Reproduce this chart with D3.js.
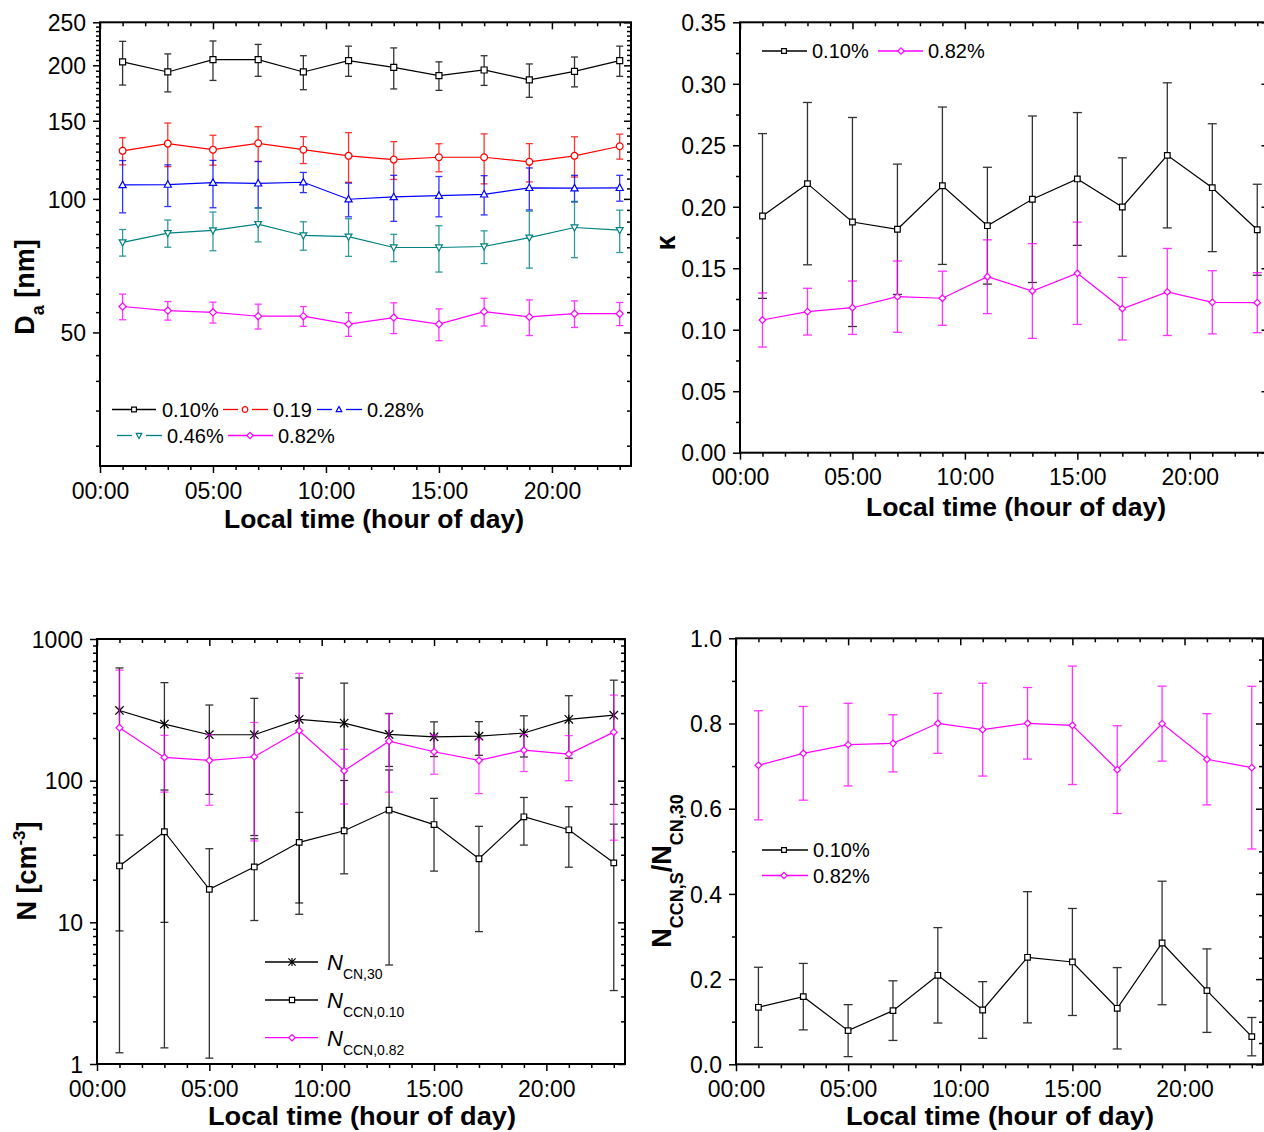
<!DOCTYPE html>
<html>
<head>
<meta charset="utf-8">
<script src="https://cdn.jsdelivr.net/npm/d3@7"></script>
<style>
  body { margin: 0; background: #fff; }
  svg { display: block; }
</style>
</head>
<body>
<svg id="chart" width="1264" height="1132"></svg>
<script>
// ---- shared x data -------------------------------------------------------
const hours = [1, 3, 5, 7, 9, 11, 13, 15, 17, 19, 21, 23];
const hourTicks = [0, 5, 10, 15, 20];
const hourTickLabels = ["00:00", "05:00", "10:00", "15:00", "20:00"];

// ---- panel (a): activation diameter D_a [nm] -----------------------------
const daLabels = ["0.10%", "0.19", "0.28%", "0.46%", "0.82%"];
const da010 = [203.5, 193.2, 205.9, 205.9, 193.2, 204.9, 197.9, 189.6, 195.2, 185.4, 193.8, 204.9];
const da010Sd = [23, 19, 21, 17, 17, 16, 21, 14, 15, 16, 15, 16];
const da019 = [128.3, 133.2, 129.1, 133.4, 129.1, 125.0, 122.6, 124.1, 124.1, 121.2, 125.0, 131.4];
const da019Sd = [9, 15, 10, 12, 9, 16, 12, 9, 16, 12, 13, 8.5];
const da028 = [107.5, 107.7, 108.8, 108.4, 109.0, 99.8, 101.0, 101.7, 102.4, 105.9, 105.7, 105.9];
const da028Sd = [14.5, 11.6, 13.3, 13, 5.7, 8.7, 12, 10.6, 10.4, 11.5, 7.3, 7.1];
const da046 = [79.8, 83.7, 84.9, 87.7, 82.7, 82.2, 77.7, 77.7, 78.1, 81.8, 86.2, 85.0];
const da046Sd = [5.5, 5.9, 8.5, 7.7, 6.1, 8, 5.5, 9.3, 6.6, 12, 12.5, 9.3];
const da082 = [57.2, 56.0, 55.5, 54.4, 54.4, 52.2, 54.0, 52.2, 55.7, 54.2, 55.1, 55.1];
const da082Sd = [3.8, 2.7, 3, 3.5, 2.8, 3.2, 4.3, 4.3, 4, 5, 3.8, 3.3];
const daTicks = [50, 100, 150, 200, 250];

// ---- panel (b): hygroscopicity kappa -------------------------------------
const kappaLabels = ["0.10%", "0.82%"];
const kappa010 = [0.1925, 0.2188, 0.1876, 0.1817, 0.2171, 0.1846, 0.2061, 0.2226, 0.1998, 0.2418, 0.2155, 0.1813];
const kappa010Sd = [0.067, 0.066, 0.085, 0.053, 0.064, 0.0475, 0.0677, 0.054, 0.040, 0.059, 0.052, 0.037];
const kappa082 = [0.1079, 0.1147, 0.1179, 0.1269, 0.1256, 0.1431, 0.1315, 0.1459, 0.1171, 0.1307, 0.1223, 0.1220];
const kappa082Sd = [0.022, 0.019, 0.0217, 0.029, 0.022, 0.030, 0.0385, 0.0416, 0.0254, 0.0354, 0.0257, 0.0244];
const kappaTicks = [0, 0.05, 0.10, 0.15, 0.20, 0.25, 0.30, 0.35];

// ---- panel (c): number concentrations [cm^-3] ----------------------------
const nCn30 = [313, 251, 211, 211, 271, 255, 212, 204, 206, 217, 271, 290];
const nCn30Sd = [311.8, 241, 131, 170, 259.6, 233, 86, 56, 55, 70, 127, 222];
const nCcn010 = [25, 43.6, 17.1, 24.6, 36.7, 44.3, 62, 49, 28.1, 55.6, 45, 26.3];
const nCcn010Sd = [16.3, 42.3, 16, 14.3, 23, 56, 57, 26, 19.5, 20.5, 20.5, 23];
const nCcn082 = [236, 146, 139, 147.5, 225, 117.5, 190, 160, 139, 164, 154, 220];
const nCcn082Sd = [367, 63, 72, 110, 347, 49, 107, 49, 58, 48, 54, 182];
const nTicks = [1, 10, 100, 1000];

// ---- panel (d): activated fraction N_CCN,S / N_CN,30 ----------------------
const ratio010 = [0.1338, 0.1588, 0.079, 0.126, 0.2089, 0.1275, 0.2512, 0.2402, 0.1315, 0.2848, 0.1729, 0.0649];
const ratio010Sd = [0.094, 0.078, 0.061, 0.07, 0.112, 0.0665, 0.154, 0.1256, 0.0955, 0.145, 0.098, 0.045];
const ratio082 = [0.7019, 0.73, 0.7504, 0.7535, 0.8005, 0.7856, 0.8005, 0.7958, 0.6917, 0.7997, 0.716, 0.6964];
const ratio082Sd = [0.128, 0.11, 0.097, 0.067, 0.0705, 0.109, 0.084, 0.139, 0.103, 0.088, 0.107, 0.191];
const ratioTicks = [0, 0.2, 0.4, 0.6, 0.8, 1.0];

// ---- drawing helpers -----------------------------------------------------
const FONT = '"Liberation Sans", Arial, Helvetica, sans-serif';
const svg = d3.select("#chart");
const minorHours = d3.range(1, 24).filter(h => h % 5 !== 0);

function styleAxis(s) {
  s.select(".domain").remove();
  s.selectAll(".tick line").attr("stroke", "#000").attr("stroke-width", 1.5);
  s.selectAll(".tick text").attr("fill", "#000").attr("font-size", 23).attr("font-family", FONT);
}

function markerPath(type, r) {
  switch (type) {
    case "square": return `M${-r},${-r}h${2 * r}v${2 * r}h${-2 * r}Z`;
    case "circle": return `M${r},0A${r},${r} 0 1 1 ${-r},0A${r},${r} 0 1 1 ${r},0Z`;
    case "triUp": return `M0,${-r * 1.05}L${r},${r * 0.75}L${-r},${r * 0.75}Z`;
    case "triDown": return `M0,${r * 1.05}L${r},${-r * 0.75}L${-r},${-r * 0.75}Z`;
    case "diamond": return `M0,${-r}L${r},0L0,${r}L${-r},0Z`;
    case "asterisk": return `M${-r},${-r}L${r},${r}M${-r},${r}L${r},${-r}M0,${-r * 1.1}L0,${r * 1.1}`;
  }
}

function buildPanel(o) {
  const g = svg.append("g");
  const x = d3.scaleLinear().domain([0, 23.5]).range([o.left, o.right]);
  const y = o.y;
  // bottom axis: outward ticks
  g.append("g").attr("transform", `translate(0,${o.bottom})`)
    .call(d3.axisBottom(x).tickValues(minorHours).tickFormat("").tickSize(4).tickSizeOuter(0)).call(styleAxis);
  g.append("g").attr("transform", `translate(0,${o.bottom})`)
    .call(d3.axisBottom(x).tickValues(hourTicks).tickFormat((d, i) => hourTickLabels[i]).tickSize(7).tickSizeOuter(0))
    .call(styleAxis)
    .selectAll(".tick text").attr("y", o.tickLabelDy).attr("dy", null);
  // top axis: inward ticks
  g.append("g").attr("transform", `translate(0,${o.top})`)
    .call(d3.axisBottom(x).tickValues(minorHours).tickFormat("").tickSize(4).tickSizeOuter(0)).call(styleAxis);
  g.append("g").attr("transform", `translate(0,${o.top})`)
    .call(d3.axisBottom(x).tickValues(hourTicks).tickFormat("").tickSize(7).tickSizeOuter(0)).call(styleAxis);
  // left axis: outward ticks
  g.append("g").attr("transform", `translate(${o.left},0)`)
    .call(d3.axisLeft(y).tickValues(o.yMinor).tickFormat("").tickSize(4).tickSizeOuter(0)).call(styleAxis);
  g.append("g").attr("transform", `translate(${o.left},0)`)
    .call(d3.axisLeft(y).tickValues(o.yMajor).tickFormat(o.yFmt).tickSize(7).tickPadding(7).tickSizeOuter(0))
    .call(styleAxis)
    .selectAll(".tick text").attr("dy", "0.36em");
  // right axis: inward ticks
  g.append("g").attr("transform", `translate(${o.right},0)`)
    .call(d3.axisLeft(y).tickValues(o.yMinorRight || o.yMinor).tickFormat("").tickSize(4).tickSizeOuter(0)).call(styleAxis);
  g.append("g").attr("transform", `translate(${o.right},0)`)
    .call(d3.axisLeft(y).tickValues(o.yMajor).tickFormat("").tickSize(7).tickSizeOuter(0)).call(styleAxis);
  // frame
  g.append("rect")
    .attr("x", o.left).attr("y", o.top)
    .attr("width", o.right - o.left).attr("height", o.bottom - o.top)
    .attr("fill", "none").attr("stroke", "#000").attr("stroke-width", 2);
  // x title
  g.append("text")
    .attr("x", o.xTitleX).attr("y", o.xTitleY)
    .attr("text-anchor", "middle")
    .attr("font-family", FONT).attr("font-size", 25).attr("font-weight", "bold")
    .attr("textLength", o.xTitleW).attr("lengthAdjust", "spacingAndGlyphs")
    .text("Local time (hour of day)");
  return { g, x, y };
}

function drawSeries(p, s) {
  const { g, x, y } = p;
  const sg = g.append("g");
  const bars = sg.append("g")
    .attr("stroke", s.color).attr("stroke-width", 1.3).attr("opacity", s.barOpacity || 0.8).attr("fill", "none");
  const cap = s.cap;
  hours.forEach((h, i) => {
    const m = s.mean[i], e = s.sd[i];
    const xc = x(h);
    const hi = m + e, lo = m - e;
    const yHi = y(hi), yM = y(m);
    bars.append("line").attr("x1", xc).attr("x2", xc).attr("y1", yM).attr("y2", yHi);
    bars.append("line").attr("x1", xc - cap).attr("x2", xc + cap).attr("y1", yHi).attr("y2", yHi);
    // on a log axis a non-positive lower end has no position, so only the upper half is drawn
    if (lo > 0 || !s.log) {
      const yLo = y(lo);
      bars.append("line").attr("x1", xc).attr("x2", xc).attr("y1", yM).attr("y2", yLo);
      bars.append("line").attr("x1", xc - cap).attr("x2", xc + cap).attr("y1", yLo).attr("y2", yLo);
    }
  });
  const line = d3.line().x((d, i) => x(hours[i])).y(d => y(d));
  sg.append("path").datum(s.mean)
    .attr("d", line).attr("fill", "none").attr("stroke", s.color).attr("stroke-width", 1.2);
  sg.selectAll(null).data(s.mean).join("path")
    .attr("transform", (d, i) => `translate(${x(hours[i])},${y(d)})`)
    .attr("d", markerPath(s.marker, s.size))
    .attr("fill", s.marker === "asterisk" ? "none" : "#fff")
    .attr("stroke", s.color).attr("stroke-width", 1.2);
}

function legendItem(g, it) {
  const ls = g.append("g").attr("stroke", it.color).attr("stroke-width", 1.3);
  if (it.gap) {
    ls.append("line").attr("x1", it.x1).attr("x2", it.mx - it.gap).attr("y1", it.y).attr("y2", it.y);
    ls.append("line").attr("x1", it.mx + it.gap).attr("x2", it.x2).attr("y1", it.y).attr("y2", it.y);
  } else {
    ls.append("line").attr("x1", it.x1).attr("x2", it.x2).attr("y1", it.y).attr("y2", it.y);
  }
  g.append("path")
    .attr("transform", `translate(${it.mx},${it.y})`)
    .attr("d", markerPath(it.marker, it.size))
    .attr("fill", it.marker === "asterisk" ? "none" : "#fff")
    .attr("stroke", it.color).attr("stroke-width", 1.2);
  if (it.label !== undefined) {
    g.append("text").attr("x", it.tx).attr("y", it.y + 7)
      .attr("font-family", FONT).attr("font-size", 20).text(it.label);
  }
}

function rotatedTitle(x, y, parts) {
  const t = svg.append("text")
    .attr("transform", `translate(${x},${y}) rotate(-90)`)
    .attr("text-anchor", "middle")
    .attr("font-family", FONT).attr("font-weight", "bold");
  parts.forEach(pt => {
    t.append("tspan").attr("font-size", pt.size).attr("dy", pt.dy || 0).text(pt.text);
  });
}

// minor ticks of the D_a log axis: eight evenly spaced values inside each 50 nm step
const daMinor = d3.range(0, 250, 50).flatMap(b => d3.range(1, 9).map(j => b + j * 50 / 9)).filter(v => v >= 25 && v <= 250);

// ---- panel (a) -----------------------------------------------------------
const pa = buildPanel({
  left: 100, right: 631, top: 22.3, bottom: 466,
  y: d3.scaleLog().domain([25, 250]).range([466, 22.3]),
  yMajor: daTicks, yMinor: daMinor, yFmt: d3.format("d"),
  tickLabelDy: 33, xTitleX: 374, xTitleY: 528, xTitleW: 300
});
drawSeries(pa, { mean: da010, sd: da010Sd, color: "#000000", marker: "square", size: 3, cap: 3.5, log: true });
drawSeries(pa, { mean: da019, sd: da019Sd, color: "#ff0000", marker: "circle", size: 3.4, cap: 3.5, log: true });
drawSeries(pa, { mean: da028, sd: da028Sd, color: "#0000ff", marker: "triUp", size: 3.6, cap: 3.5, log: true });
drawSeries(pa, { mean: da046, sd: da046Sd, color: "#008080", marker: "triDown", size: 3.4, cap: 3.5, log: true });
drawSeries(pa, { mean: da082, sd: da082Sd, color: "#ff00ff", marker: "diamond", size: 3.6, cap: 3.5, log: true });
[
  { x1: 112, x2: 156, mx: 134, tx: 162, y: 409.5, color: "#000000", marker: "square", size: 2.4, label: daLabels[0] },
  { x1: 223, x2: 268, mx: 245, tx: 273, y: 409.5, color: "#ff0000", marker: "circle", size: 2.8, gap: 7, label: daLabels[1] },
  { x1: 317, x2: 362, mx: 339, tx: 367, y: 409.5, color: "#0000ff", marker: "triUp", size: 2.8, gap: 7, label: daLabels[2] },
  { x1: 117, x2: 162, mx: 139, tx: 167, y: 435.5, color: "#008080", marker: "triDown", size: 2.8, gap: 7, label: daLabels[3] },
  { x1: 228, x2: 273, mx: 250, tx: 278, y: 435.5, color: "#ff00ff", marker: "diamond", size: 3.2, label: daLabels[4] }
].forEach(it => legendItem(pa.g, it));
rotatedTitle(34, 287, [
  { text: "D", size: 27 },
  { text: "a", size: 18, dy: 10 },
  { text: " [nm]", size: 27, dy: -10 }
]);

// ---- panel (b) -----------------------------------------------------------
const pb = buildPanel({
  left: 740, right: 1268.5, top: 22.3, bottom: 452.7,
  y: d3.scaleLinear().domain([0, 0.35]).range([452.7, 22.3]),
  yMajor: kappaTicks, yMinor: d3.range(0.025, 0.35, 0.05), yFmt: d3.format(".2f"),
  tickLabelDy: 32.5, xTitleX: 1016, xTitleY: 516, xTitleW: 300
});
drawSeries(pb, { mean: kappa010, sd: kappa010Sd, color: "#000000", marker: "square", size: 2.8, cap: 4.5 });
drawSeries(pb, { mean: kappa082, sd: kappa082Sd, color: "#ff00ff", marker: "diamond", size: 3.3, cap: 4.5 });
[
  { x1: 762, x2: 807, mx: 784, tx: 812, y: 51, color: "#000000", marker: "square", size: 2.4, label: kappaLabels[0] },
  { x1: 878, x2: 923, mx: 901, tx: 928, y: 51, color: "#ff00ff", marker: "diamond", size: 3.2, label: kappaLabels[1] }
].forEach(it => legendItem(pb.g, it));
rotatedTitle(675, 243, [{ text: "κ", size: 27 }]);

// ---- panel (c) -----------------------------------------------------------
const nMinor = [1, 10, 100].flatMap(b => d3.range(2, 10).map(k => k * b));
const pc = buildPanel({
  left: 97, right: 625, top: 639, bottom: 1064,
  y: d3.scaleLog().domain([1, 1000]).range([1064, 639]),
  yMajor: nTicks, yMinor: nMinor, yFmt: d3.format("d"),
  tickLabelDy: 32.5, xTitleX: 362, xTitleY: 1125, xTitleW: 308
});
drawSeries(pc, { mean: nCn30, sd: nCn30Sd, color: "#000000", marker: "asterisk", size: 4.2, cap: 4, log: true });
drawSeries(pc, { mean: nCcn010, sd: nCcn010Sd, color: "#000000", marker: "square", size: 2.8, cap: 4, log: true });
drawSeries(pc, { mean: nCcn082, sd: nCcn082Sd, color: "#ff00ff", marker: "diamond", size: 3.4, cap: 4, log: true, barOpacity: 0.7 });
const nLegend = [
  { y: 962, color: "#000000", marker: "asterisk", size: 3.6, sub: "CN,30" },
  { y: 1000, color: "#000000", marker: "square", size: 2.6, sub: "CCN,0.10" },
  { y: 1037.7, color: "#ff00ff", marker: "diamond", size: 3.2, sub: "CCN,0.82" }
];
nLegend.forEach(it => {
  legendItem(pc.g, { x1: 265, x2: 318, mx: 292, y: it.y, color: it.color, marker: it.marker, size: it.size });
  const t = pc.g.append("text").attr("x", 327).attr("y", it.y + 8)
    .attr("font-family", FONT).attr("font-size", 22);
  t.append("tspan").attr("font-style", "italic").text("N");
  t.append("tspan").attr("font-size", 14).attr("dy", 9).text(it.sub);
});
rotatedTitle(36, 871, [
  { text: "N [cm", size: 27 },
  { text: "-3", size: 17, dy: -11 },
  { text: "]", size: 27, dy: 11 }
]);

// ---- panel (d) -----------------------------------------------------------
const pd = buildPanel({
  left: 736, right: 1263, top: 638.3, bottom: 1064.3,
  y: d3.scaleLinear().domain([0, 1]).range([1064.3, 638.3]),
  yMajor: ratioTicks, yMinor: [0.1, 0.3, 0.5, 0.7, 0.9], yFmt: d3.format(".1f"),
  yMinorRight: d3.range(0.05, 1, 0.05).filter(v => Math.abs(v * 5 - Math.round(v * 5)) > 1e-6),
  tickLabelDy: 32.5, xTitleX: 1000, xTitleY: 1125, xTitleW: 308
});
drawSeries(pd, { mean: ratio010, sd: ratio010Sd, color: "#000000", marker: "square", size: 2.8, cap: 4.5 });
drawSeries(pd, { mean: ratio082, sd: ratio082Sd, color: "#ff00ff", marker: "diamond", size: 3.3, cap: 4.5 });
[
  { x1: 762, x2: 808, mx: 784, tx: 813, y: 850, color: "#000000", marker: "square", size: 2.4, label: kappaLabels[0] },
  { x1: 762, x2: 808, mx: 784, tx: 813, y: 875.5, color: "#ff00ff", marker: "diamond", size: 3.2, label: kappaLabels[1] }
].forEach(it => legendItem(pd.g, it));
rotatedTitle(671, 871, [
  { text: "N", size: 27 },
  { text: "CCN,S", size: 18, dy: 12 },
  { text: "/N", size: 27, dy: -12 },
  { text: "CN,30", size: 18, dy: 12 }
]);
</script>
</body>
</html>
